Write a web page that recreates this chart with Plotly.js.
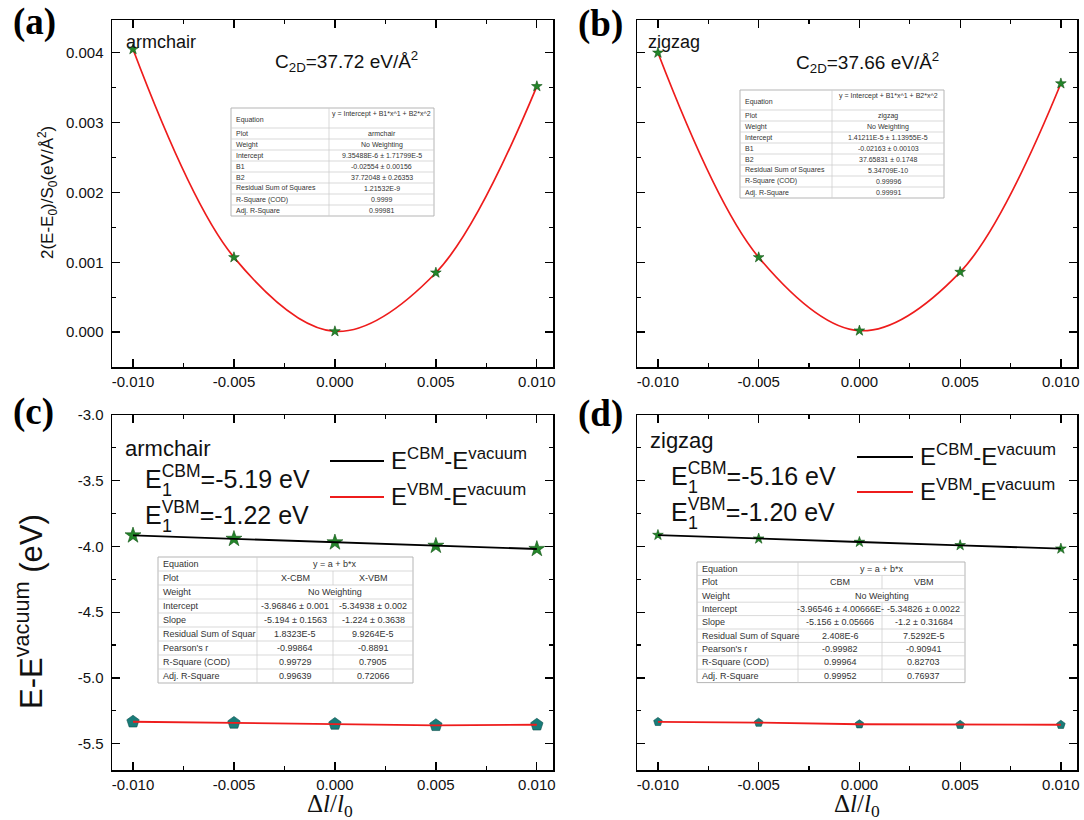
<!DOCTYPE html>
<html>
<head>
<meta charset="utf-8">
<script src="https://cdn.plot.ly/plotly-3.0.1.min.js"></script>
<style>
  html, body { margin: 0; padding: 0; background: #fff; }
  #chart { width: 1084px; height: 820px; }
</style>
</head>
<body>
<div id="chart"></div>
<script>
// ---------- data ----------
// relative strain Δl/l0
const strain = [-0.010, -0.005, 0.000, 0.005, 0.010];

// 2(E-E0)/S0 in eV/Å^2
const energyArmchair = [0.00405, 0.00107, 0.00001, 0.00085, 0.00352];
const energyZigzag   = [0.00400, 0.00107, 0.00002, 0.00086, 0.00356];

// band edges relative to vacuum level (eV)
const cbmArmchair = [-3.916, -3.942, -3.969, -3.995, -4.019];
const vbmArmchair = [-5.333, -5.342, -5.350, -5.360, -5.356];
const cbmZigzag   = [-3.913, -3.941, -3.966, -3.991, -4.017];
const vbmZigzag   = [-5.334, -5.340, -5.352, -5.356, -5.356];

// tick labels
const xTickVals = [-0.010, -0.005, 0.000, 0.005, 0.010];
const xTickText = ['-0.010', '-0.005', '0.000', '0.005', '0.010'];
const yTickValsEnergy = [0.000, 0.001, 0.002, 0.003, 0.004];
const yTickTextEnergy = ['0.000', '0.001', '0.002', '0.003', '0.004'];
const yTickValsBand = [-5.5, -5.0, -4.5, -4.0, -3.5, -3.0];
const yTickTextBand = ['-5.5', '-5.0', '-4.5', '-4.0', '-3.5', '-3.0'];

// fit report tables
const quadLabels = ['Equation', 'Plot', 'Weight', 'Intercept', 'B1', 'B2',
  'Residual Sum of Squares', 'R-Square (COD)', 'Adj. R-Square'];
const quadArmchair = ['y = Intercept + B1*x^1 + B2*x^2', 'armchair', 'No Weighting',
  '9.35488E-6 ± 1.71799E-5', '-0.02554 ± 0.00156', '37.72048 ± 0.26353',
  '1.21532E-9', '0.9999', '0.99981'];
const quadZigzag = ['y = Intercept + B1*x^1 + B2*x^2', 'zigzag', 'No Weighting',
  '1.41211E-5 ± 1.13955E-5', '-0.02163 ± 0.00103', '37.65831 ± 0.1748',
  '5.34709E-10', '0.99996', '0.99991'];

const linLabelsArmchair = ['Equation', 'Plot', 'Weight', 'Intercept', 'Slope',
  'Residual Sum of Squar', "Pearson's r", 'R-Square (COD)', 'Adj. R-Square'];
const linLabelsZigzag = ['Equation', 'Plot', 'Weight', 'Intercept', 'Slope',
  'Residual Sum of Square', "Pearson's r", 'R-Square (COD)', 'Adj. R-Square'];
const linShared = ['y = a + b*x', null, 'No Weighting', null, null, null, null, null, null];
const linArmchairCBM = [null, 'X-CBM', null, '-3.96846 ± 0.001', '-5.194 ± 0.1563',
  '1.8323E-5', '-0.99864', '0.99729', '0.99639'];
const linArmchairVBM = [null, 'X-VBM', null, '-5.34938 ± 0.002', '-1.224 ± 0.3638',
  '9.9264E-5', '-0.8891', '0.7905', '0.72066'];
const linZigzagCBM = [null, 'CBM', null, '-3.96546 ± 4.00666E-', '-5.156 ± 0.05666',
  '2.408E-6', '-0.99982', '0.99964', '0.99952'];
const linZigzagVBM = [null, 'VBM', null, '-5.34826 ± 0.0022', '-1.2 ± 0.31684',
  '7.5292E-5', '-0.90941', '0.82703', '0.76937'];

// ---------- helpers ----------
const W = 1084, H = 820;
const px = v => v / W;
const py = v => 1 - v / H;
const SANS = 'Liberation Sans, Arial, sans-serif';
const SERIF = 'Liberation Serif, Times New Roman, serif';
const RED = '#ee1c1c';
const STAR = '#24862a';
const TEAL = '#197c79';

const traces = [];
const shapes = [];
const annotations = [];

function note(x, y, text, size, opts) {
  annotations.push(Object.assign({
    xref: 'paper', yref: 'paper', x: px(x), y: py(y), text: text,
    showarrow: false, xanchor: 'left', yanchor: 'middle',
    font: { family: SANS, size: size, color: '#111' }
  }, opts || {}));
}

function line(x0, y0, x1, y1, color, width) {
  shapes.push({ type: 'line', xref: 'paper', yref: 'paper',
    x0: px(x0), y0: py(y0), x1: px(x1), y1: py(y1),
    line: { color: color, width: width } });
}

// fit report table drawn from shapes and annotations
function addTable(t) {
  const ys = [t.top];
  t.rowHeights.forEach(h => ys.push(ys[ys.length - 1] + h));
  const left = t.edges[0], right = t.edges[t.edges.length - 1];
  shapes.push({ type: 'rect', xref: 'paper', yref: 'paper',
    x0: px(left), x1: px(right), y0: py(t.top), y1: py(ys[ys.length - 1]),
    fillcolor: '#ffffff', line: { color: '#b5b5b5', width: 1 } });
  const grid = '#cfcfcf';
  const cellFont = { family: SANS, size: t.font, color: '#333' };
  for (let i = 0; i < t.labels.length; i++) {
    const top = ys[i], bot = ys[i + 1], mid = (top + bot) / 2;
    if (i > 0) line(left, top, right, top, grid, 0.8);
    line(t.edges[1], top, t.edges[1], bot, grid, 0.8);
    const tall = i === 0 && t.tallFirst;
    note(left + 3, tall ? mid + 2 : mid, t.labels[i], t.font, { font: cellFont });
    const shared = t.shared ? t.shared[i] : null;
    if (shared !== null && shared !== undefined) {
      note((t.edges[1] + right) / 2, mid, shared, t.font,
        { xanchor: 'center', font: cellFont });
    } else {
      for (let c = 0; c < t.columns.length; c++) {
        if (c > 0) line(t.edges[c + 1], top, t.edges[c + 1], bot, grid, 0.8);
        note((t.edges[c + 1] + t.edges[c + 2]) / 2, tall ? top + 6 : mid,
          t.columns[c][i], t.font, { xanchor: 'center', font: cellFont });
      }
    }
  }
}

// E_1 label with stacked sub/superscript
function deformationLabel(x, y, sup, value) {
  note(x, y, 'E<sup>' + sup + '</sup>=' + value + ' eV', 25);
  note(x + 17, y + 13, '1', 18);
}

function legendEntry(x0, x1, y, color, text) {
  line(x0, y, x1, y, color, 2);
  note(x1 + 5, y - 2, text, 24);
}

// ---------- traces ----------
function energyPanel(xa, ya, vals) {
  traces.push({ x: strain, y: vals, xaxis: xa, yaxis: ya, mode: 'lines',
    line: { color: RED, width: 1.7, shape: 'spline', smoothing: 1 },
    showlegend: false, hoverinfo: 'skip' });
  traces.push({ x: strain, y: vals, xaxis: xa, yaxis: ya, mode: 'markers',
    marker: { symbol: 'star', size: 8, color: STAR, line: { color: '#0f5012', width: 0.6 } },
    showlegend: false });
}
energyPanel('x', 'y', energyArmchair);
energyPanel('x2', 'y2', energyZigzag);

function bandPanel(xa, ya, cbm, vbm, starSize, pentSize) {
  traces.push({ x: strain, y: cbm, xaxis: xa, yaxis: ya, mode: 'markers',
    marker: { symbol: 'star', size: starSize, color: STAR, line: { color: '#0f5012', width: 0.6 } },
    showlegend: false });
  traces.push({ x: strain, y: vbm, xaxis: xa, yaxis: ya, mode: 'markers',
    marker: { symbol: 'pentagon', size: pentSize, color: TEAL, line: { color: '#0c4f4c', width: 0.6 } },
    showlegend: false });
  traces.push({ x: strain, y: cbm, xaxis: xa, yaxis: ya, mode: 'lines',
    line: { color: '#000', width: 1.8 }, showlegend: false, hoverinfo: 'skip' });
  traces.push({ x: strain, y: vbm, xaxis: xa, yaxis: ya, mode: 'lines',
    line: { color: RED, width: 1.8 }, showlegend: false, hoverinfo: 'skip' });
}
bandPanel('x3', 'y3', cbmArmchair, vbmArmchair, 12, 13);
bandPanel('x4', 'y4', cbmZigzag, vbmZigzag, 8, 9);

// ---------- axes ----------
const baseAxis = {
  showline: true, linecolor: '#000', linewidth: 1.5, mirror: 'allticks',
  ticks: 'inside', ticklen: 8, tickwidth: 1.3, tickcolor: '#000',
  showgrid: false, zeroline: false, ticklabelstandoff: 4,
  tickfont: { family: SANS, size: 15, color: '#111' }
};
function xAxis(x0, x1, anchor, labels) {
  return Object.assign({}, baseAxis, {
    domain: [px(x0), px(x1)], anchor: anchor, range: [-0.01104, 0.0108],
    tickmode: 'array', tickvals: xTickVals, ticktext: xTickText, showticklabels: labels,
    ticklabelstandoff: 0,
    minor: { ticks: 'inside', ticklen: 4, tickwidth: 1.2, tickcolor: '#000',
      tickmode: 'linear', tick0: 0, dtick: 0.0025, showgrid: false }
  });
}
function yAxis(y0, y1, anchor, range, vals, text, minorStep, labels) {
  return Object.assign({}, baseAxis, {
    domain: [py(y1), py(y0)], anchor: anchor, range: range,
    tickmode: 'array', tickvals: vals, ticktext: text, showticklabels: labels,
    minor: { ticks: 'inside', ticklen: 4, tickwidth: 1.2, tickcolor: '#000',
      tickmode: 'linear', tick0: 0, dtick: minorStep, showgrid: false }
  });
}

const layout = {
  width: W, height: H,
  margin: { l: 0, r: 0, t: 0, b: 0 },
  paper_bgcolor: '#fff', plot_bgcolor: 'rgba(0,0,0,0)',
  showlegend: false,
  xaxis:  xAxis(112, 553, 'y', true),
  yaxis:  yAxis(20, 367, 'x', [-0.0005, 0.00447], yTickValsEnergy, yTickTextEnergy, 0.0005, true),
  xaxis2: xAxis(637, 1077, 'y2', true),
  yaxis2: yAxis(20, 367, 'x2', [-0.0005, 0.00447], yTickValsEnergy, yTickTextEnergy, 0.0005, false),
  xaxis3: xAxis(112, 553, 'y3', true),
  yaxis3: yAxis(415, 770, 'x3', [-5.7, -3.0], yTickValsBand, yTickTextBand, 0.25, true),
  xaxis4: xAxis(637, 1077, 'y4', true),
  yaxis4: yAxis(415, 770, 'x4', [-5.7, -3.0], yTickValsBand, yTickTextBand, 0.25, false),
  shapes: shapes,
  annotations: annotations
};

// ---------- panel text ----------
const panelFont = { family: SERIF, size: 37, color: '#000', weight: 'bold' };
note(34, 22, '<b>(a)</b>', 37, { xanchor: 'center', font: panelFont });
note(600, 24, '<b>(b)</b>', 37, { xanchor: 'center', font: panelFont });
note(33, 412, '<b>(c)</b>', 37, { xanchor: 'center', font: panelFont });
note(600, 414, '<b>(d)</b>', 37, { xanchor: 'center', font: panelFont });

// y axis titles
note(47, 193, '2(E-E<sub>0</sub>)/S<sub>0</sub>(eV/Å<sup>2</sup>)', 17,
  { xanchor: 'center', textangle: -90 });
note(29, 612, 'E-E<sup>vacuum</sup> (eV)', 31, { xanchor: 'center', textangle: -90 });

// x axis titles
const titleFont = { family: SERIF, size: 25, color: '#111' };
note(330, 805, 'Δ<i>l</i>/<i>l</i><sub>0</sub>', 25, { xanchor: 'center', font: titleFont });
note(857, 805, 'Δ<i>l</i>/<i>l</i><sub>0</sub>', 25, { xanchor: 'center', font: titleFont });

// (a) and (b) labels
note(124, 42, 'armchair', 18);
note(273, 62, 'C<sub>2D</sub>=37.72 eV/Å<sup>2</sup>', 19);
note(646, 42, 'zigzag', 18);
note(794, 63, 'C<sub>2D</sub>=37.66 eV/Å<sup>2</sup>', 19);

// (c) and (d) labels
note(123, 448, 'armchair', 22);
deformationLabel(143, 477, 'CBM', '-5.19');
deformationLabel(143, 513, 'VBM', '-1.22');
legendEntry(330, 384, 461, '#000', 'E<sup>CBM</sup>-E<sup>vacuum</sup>');
legendEntry(330, 384, 497, RED, 'E<sup>VBM</sup>-E<sup>vacuum</sup>');

note(648, 440, 'zigzag', 22);
deformationLabel(669, 474, 'CBM', '-5.16');
deformationLabel(669, 510, 'VBM', '-1.20');
legendEntry(857, 913, 457, '#000', 'E<sup>CBM</sup>-E<sup>vacuum</sup>');
legendEntry(857, 913, 492, RED, 'E<sup>VBM</sup>-E<sup>vacuum</sup>');

// fit tables
addTable({ top: 108, edges: [231, 329, 434], rowHeights: [20, 11, 11, 11, 11, 11, 11, 11, 11],
  labels: quadLabels, columns: [quadArmchair], font: 7, tallFirst: true });
addTable({ top: 90, edges: [740, 832, 944], rowHeights: [20, 11, 11, 11, 11, 11, 11, 11, 11],
  labels: quadLabels, columns: [quadZigzag], font: 7, tallFirst: true });
addTable({ top: 557, edges: [158, 257, 333, 413], rowHeights: [14, 14, 14, 14, 14, 14, 14, 14, 14],
  labels: linLabelsArmchair, columns: [linArmchairCBM, linArmchairVBM], shared: linShared, font: 9 });
addTable({ top: 562, edges: [697, 798, 882, 965], rowHeights: [13.4, 13.4, 13.4, 13.4, 13.4, 13.4, 13.4, 13.4, 13.4],
  labels: linLabelsZigzag, columns: [linZigzagCBM, linZigzagVBM], shared: linShared, font: 9 });

Plotly.newPlot('chart', traces, layout, { staticPlot: true, displayModeBar: false });
</script>
</body>
</html>
